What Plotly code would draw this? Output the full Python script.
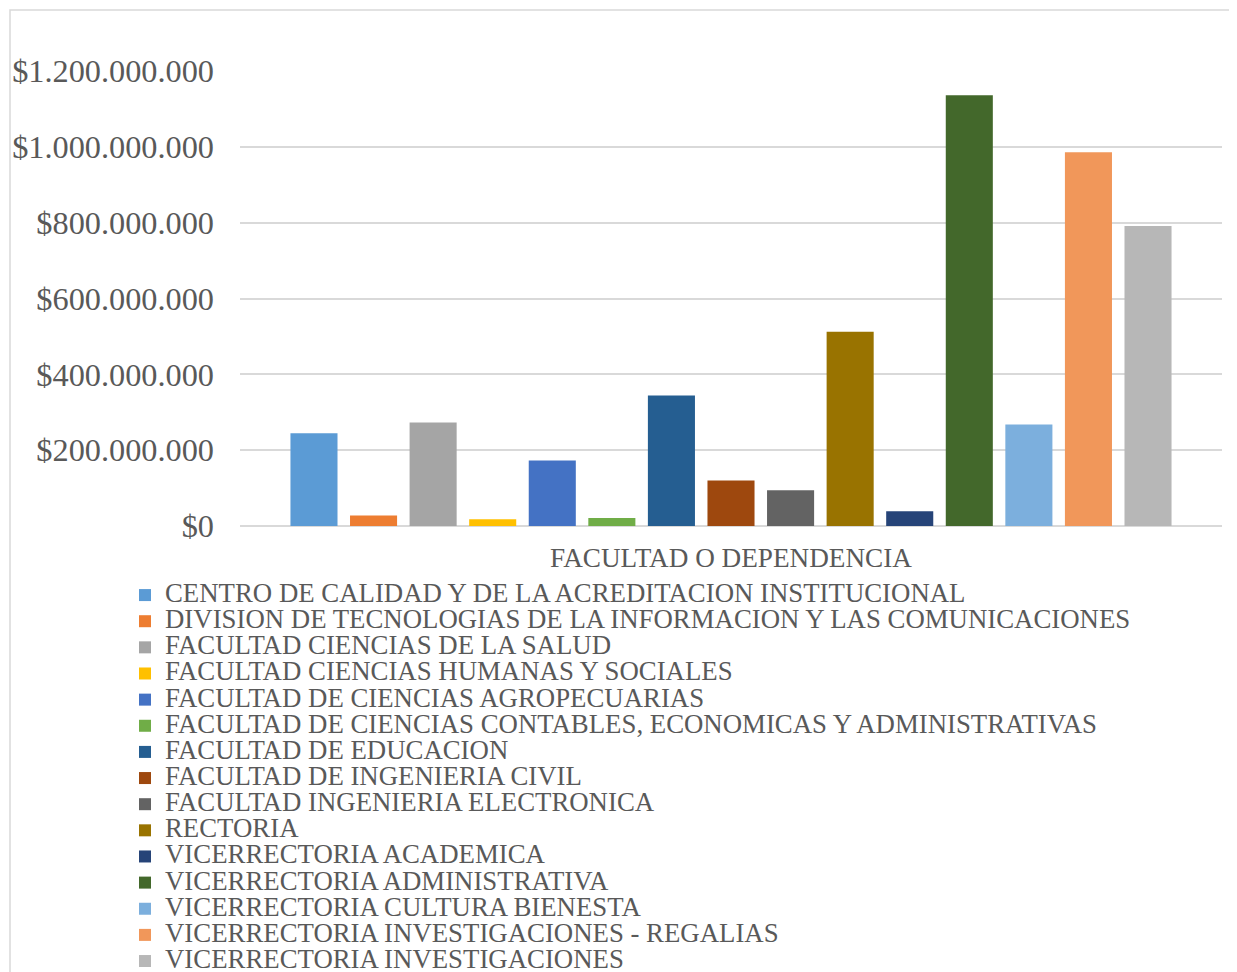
import plotly.graph_objects as go

categoria = ["FACULTAD O DEPENDENCIA"]

dependencias = [
    "CENTRO DE CALIDAD Y DE LA ACREDITACION INSTITUCIONAL",
    "DIVISION DE TECNOLOGIAS DE LA INFORMACION Y LAS COMUNICACIONES",
    "FACULTAD CIENCIAS DE LA SALUD",
    "FACULTAD CIENCIAS HUMANAS Y SOCIALES",
    "FACULTAD DE CIENCIAS AGROPECUARIAS",
    "FACULTAD DE CIENCIAS CONTABLES, ECONOMICAS Y ADMINISTRATIVAS",
    "FACULTAD DE EDUCACION",
    "FACULTAD DE INGENIERIA CIVIL",
    "FACULTAD INGENIERIA ELECTRONICA",
    "RECTORIA",
    "VICERRECTORIA ACADEMICA",
    "VICERRECTORIA ADMINISTRATIVA",
    "VICERRECTORIA CULTURA BIENESTA",
    "VICERRECTORIA INVESTIGACIONES - REGALIAS",
    "VICERRECTORIA INVESTIGACIONES",
]

valores = [
    244_700_000, 28_000_000, 273_000_000, 17_600_000, 173_000_000,
    21_000_000, 344_000_000, 120_000_000, 94_000_000, 512_000_000,
    39_000_000, 1_136_000_000, 268_000_000, 986_000_000, 791_000_000,
]

colores = [
    "#5B9BD5", "#ED7D31", "#A5A5A5", "#FFC000", "#4472C4",
    "#70AD47", "#255E91", "#9E480E", "#636363", "#997300",
    "#264478", "#43682B", "#7CAFDD", "#F1975A", "#B7B7B7",
]

# la pagina tiene 8px de margen en el body
W, H = 1229, 964
ML, MR, MT, MB = 232, 15, 63, 446
fuente = "Liberation Serif, Times New Roman, serif"
gris = "#595959"

fig = go.Figure()
for nombre, valor, color in zip(dependencias, valores, colores):
    fig.add_trace(go.Bar(
        x=categoria, y=[valor],
        name=f"<span style='font-size:26.8px'>{nombre}</span>",
        marker=dict(color=color, line=dict(width=0)),
    ))

pw = W - ML - MR
ph = H - MT - MB
# marco del grafico (estilo Excel)
fig.add_shape(type="rect", xref="paper", yref="paper",
              x0=(2 - ML) / pw, x1=(W + 5 - ML) / pw,
              y0=(H - MB - (H + 5)) / ph, y1=(H - MB - 2) / ph,
              line=dict(color="#d9d9d9", width=1.5), fillcolor="rgba(0,0,0,0)",
              layer="below")

fig.update_layout(
    width=W, height=H,
    margin=dict(l=ML, r=MR, t=MT, b=MB, autoexpand=False),
    paper_bgcolor="white", plot_bgcolor="white",
    barmode="group", bargap=0.09, bargroupgap=0.21,
    separators=",.",
    font=dict(family=fuente, color=gris),
    showlegend=True,
    legend=dict(
        xref="container", yref="container",
        x=117 / W, xanchor="left",
        y=1 - 569 / H, yanchor="top",
        font=dict(size=17.8, family=fuente, color=gris),
        bgcolor="rgba(0,0,0,0)",
        traceorder="normal",
        itemclick=False,
    ),
)

fig.update_yaxes(
    range=[0, 1_200_000_000], dtick=200_000_000,
    tickprefix="$", tickformat=",d",
    tickfont=dict(size=32.3, family=fuente, color=gris),
    showgrid=True, gridcolor="#d9d9d9", gridwidth=1.5,
    zeroline=True, zerolinecolor="#d9d9d9", zerolinewidth=1.5,
    showline=False, ticks="", ticklabelstandoff=25,
)
fig.update_xaxes(
    tickfont=dict(size=27.2, family=fuente, color=gris),
    showgrid=False, showline=False, ticks="", ticklabelstandoff=13,
)

fig.write_html("out.html")
